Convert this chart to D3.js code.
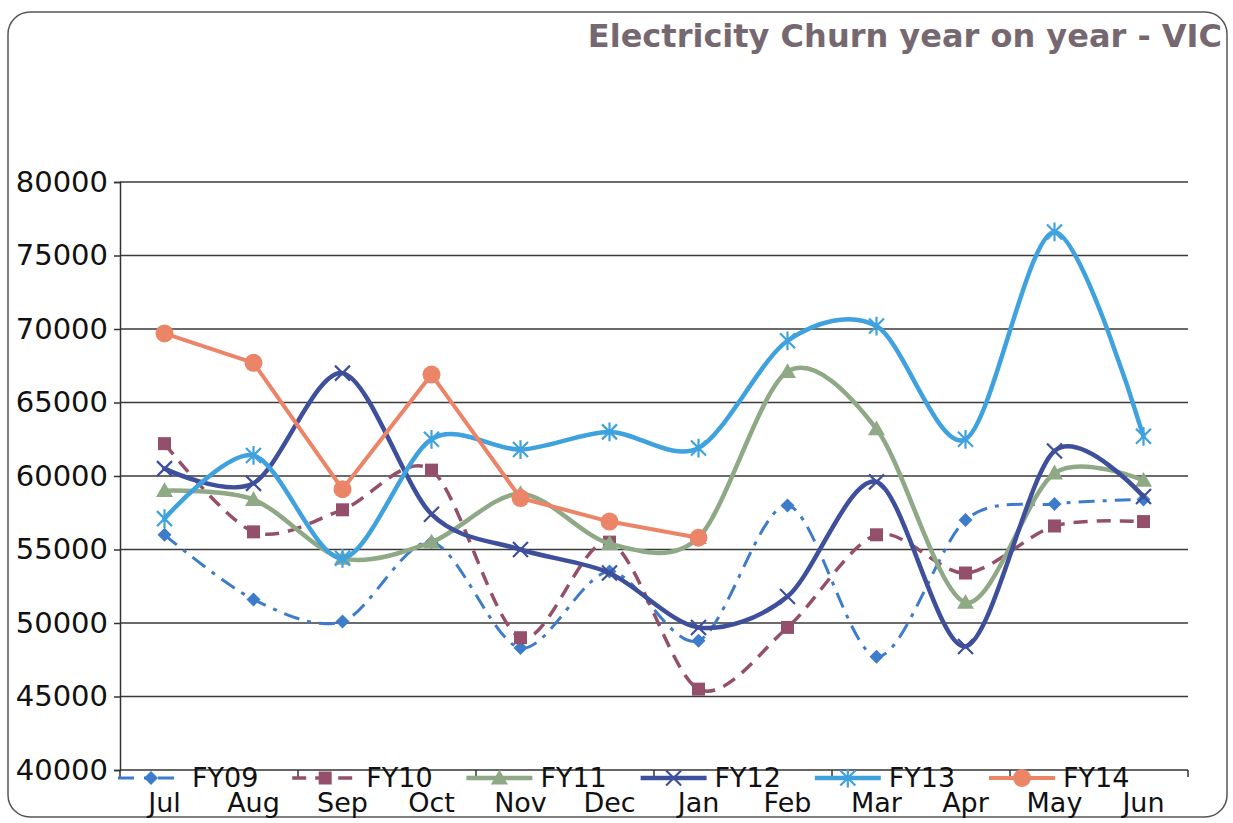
<!DOCTYPE html>
<html><head><meta charset="utf-8">
<script src="https://cdn.jsdelivr.net/npm/d3@7"></script>
<style>
body{margin:0;background:#fff}
svg{display:block}
text{font-family:"DejaVu Sans",Verdana,sans-serif}
</style>
</head><body>
<svg id="chart" width="1233" height="823"></svg>
<script>
// ---- data ----
const months = ["Jul","Aug","Sep","Oct","Nov","Dec","Jan","Feb","Mar","Apr","May","Jun"];
const yTickValues = [40000,45000,50000,55000,60000,65000,70000,75000,80000];
const seriesNames = ["FY09","FY10","FY11","FY12","FY13","FY14"];
const fy09 = [56000,51600,50100,55500,48300,53500,48800,58000,47700,57000,58100,58400];
const fy10 = [62200,56200,57700,60400,49000,55500,45500,49700,56000,53400,56600,56900];
const fy11 = [59000,58400,54400,55500,58800,55400,55800,67100,63200,51400,60200,59700];
const fy12 = [60500,59500,67000,57400,55000,53400,49700,51800,59600,48400,61700,58600];
const fy13 = [57100,61400,54400,62500,61800,63000,61900,69200,70200,62500,76600,62700];
const fy14 = [69700,67700,59100,66900,58500,56900,55800,null,null,null,null,null];
const titleText = "Electricity Churn year on year - VIC";

// ---- styles ----
const styles = {
  FY09:{color:"#3d7cc9", width:3, dash:"16,8,4,8", marker:"diamond", smooth:true},
  FY10:{color:"#94506a", width:3.5, dash:"14,9", marker:"square", smooth:true},
  FY11:{color:"#8fa986", width:4.5, dash:null, marker:"triangle", smooth:true},
  FY12:{color:"#3e4f9c", width:4.5, dash:null, marker:"x", smooth:true},
  FY13:{color:"#3fa2de", width:4.5, dash:null, marker:"star", smooth:true},
  FY14:{color:"#ec8468", width:4, dash:null, marker:"circle", smooth:false}
};
const dataByName = {FY09:fy09,FY10:fy10,FY11:fy11,FY12:fy12,FY13:fy13,FY14:fy14};

const svg = d3.select("#chart");
const plot = {left:120, right:1188, top:182, bottom:770};

// outer rounded frame
svg.append("rect").attr("x",8).attr("y",12).attr("width",1219).attr("height",805)
  .attr("rx",22).attr("ry",22).attr("fill","#fff").attr("stroke","#555").attr("stroke-width",1.5);

// title
svg.append("text").attr("x",1222).attr("y",47).attr("text-anchor","end")
  .attr("font-size",32).attr("font-weight","bold").attr("fill","#766870").text(titleText);

const x = d3.scalePoint().domain(months).range([plot.left, plot.right]).padding(0.5);
const y = d3.scaleLinear().domain([40000,80000]).range([plot.bottom, plot.top]);

// gridlines
svg.append("g").selectAll("line").data(yTickValues.filter(v=>v>40000)).join("line")
  .attr("x1",plot.left).attr("x2",plot.right)
  .attr("y1",d=>y(d)).attr("y2",d=>y(d))
  .attr("stroke","#3a3a3a").attr("stroke-width",1.5);

// y axis
const yAxis = d3.axisLeft(y).tickValues(yTickValues).tickSize(6).tickPadding(10).tickFormat(d3.format("d"));
const gy = svg.append("g").attr("transform",`translate(${plot.left},0)`).call(yAxis);
gy.select(".domain").attr("stroke","#333").attr("stroke-width",1.5);
gy.selectAll(".tick line").attr("stroke","#333").attr("stroke-width",1.5);
gy.selectAll(".tick text").attr("font-size",29).attr("fill","#111")
  .attr("font-family","DejaVu Sans, Verdana, sans-serif").attr("x",-12);

// x axis line + ticks every 2 categories
const step = x.step();
svg.append("line").attr("x1",plot.left).attr("x2",plot.right).attr("y1",plot.bottom).attr("y2",plot.bottom)
  .attr("stroke","#333").attr("stroke-width",1.5);
const boundaries = d3.range(0, months.length+1, 2).map(i => plot.left + i*step);
svg.append("g").selectAll("line").data(boundaries).join("line")
  .attr("x1",d=>d).attr("x2",d=>d).attr("y1",plot.bottom).attr("y2",plot.bottom+7)
  .attr("stroke","#333").attr("stroke-width",1.5);
// x labels
svg.append("g").selectAll("text").data(months).join("text")
  .attr("x",d=>x(d)).attr("y",812).attr("text-anchor","middle")
  .attr("font-size",27).attr("fill","#111").text(d=>d);

// marker drawing
function drawMarker(g, type, color, cx, cy, scale=1){
  const s = scale;
  if(type==="diamond"){
    const h=7*s;
    g.append("path").attr("d",`M${cx},${cy-h}L${cx+h},${cy}L${cx},${cy+h}L${cx-h},${cy}Z`).attr("fill",color);
  } else if(type==="square"){
    const h=6.5*s;
    g.append("rect").attr("x",cx-h).attr("y",cy-h).attr("width",2*h).attr("height",2*h).attr("fill",color);
  } else if(type==="triangle"){
    const h=8.5*s;
    g.append("path").attr("d",`M${cx},${cy-h}L${cx+h},${cy+h*0.75}L${cx-h},${cy+h*0.75}Z`).attr("fill",color);
  } else if(type==="x"){
    const h=7.5*s;
    g.append("path").attr("d",`M${cx-h},${cy-h}L${cx+h},${cy+h}M${cx-h},${cy+h}L${cx+h},${cy-h}`)
      .attr("stroke",color).attr("stroke-width",2.2).attr("fill","none");
  } else if(type==="star"){
    const h=7.5*s;
    g.append("path").attr("d",`M${cx-h},${cy-h}L${cx+h},${cy+h}M${cx-h},${cy+h}L${cx+h},${cy-h}M${cx},${cy-h*1.25}L${cx},${cy+h*1.25}`)
      .attr("stroke",color).attr("stroke-width",2.2).attr("fill","none");
  } else if(type==="circle"){
    g.append("circle").attr("cx",cx).attr("cy",cy).attr("r",9*s).attr("fill",color);
  }
}

// series
const seriesG = svg.append("g");
seriesNames.forEach(name=>{
  const st = styles[name];
  const vals = dataByName[name];
  const pts = months.map((m,i)=>({m, v:vals[i]})).filter(d=>d.v!=null);
  const line = d3.line().x(d=>x(d.m)).y(d=>y(d.v))
    .curve(st.smooth ? d3.curveCardinal.tension(0.1) : d3.curveLinear);
  const g = seriesG.append("g");
  g.append("path").datum(pts).attr("d",line).attr("fill","none")
    .attr("stroke",st.color).attr("stroke-width",st.width)
    .attr("stroke-dasharray",st.dash).attr("stroke-linejoin","round").attr("stroke-linecap",st.dash?"butt":"round");
  pts.forEach(p=>drawMarker(g, st.marker, st.color, x(p.m), y(p.v)));
});

// legend
const legendG = svg.append("g");
const legendY = 778;
seriesNames.forEach((name,i)=>{
  const st = styles[name];
  const x0 = 118 + i*174.2;
  const g = legendG.append("g");
  g.append("line").attr("x1",x0).attr("x2",x0+66).attr("y1",legendY).attr("y2",legendY)
    .attr("stroke",st.color).attr("stroke-width",st.width)
    .attr("stroke-dasharray", st.dash ? (name==="FY09" ? "16,10,4,10" : "14,9") : null);
  drawMarker(g, st.marker, st.color, x0+33, legendY);
  g.append("text").attr("x",x0+74).attr("y",legendY+9).attr("font-size",27).attr("fill","#111").text(name);
});
</script>
</body></html>
